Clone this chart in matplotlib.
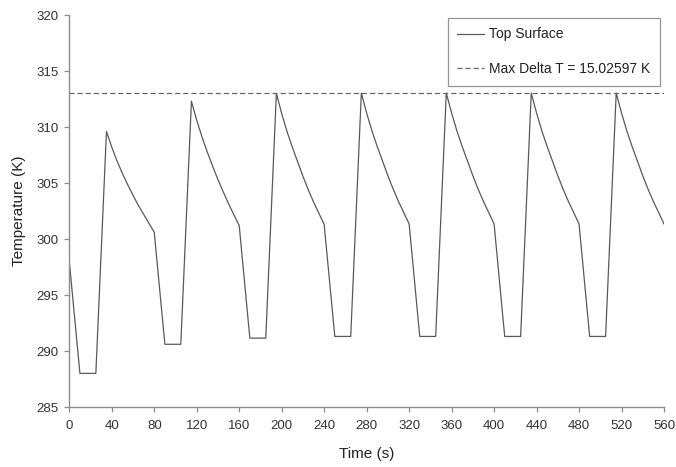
import numpy as np
import matplotlib
matplotlib.use('Agg')
import matplotlib.pyplot as plt

plt.rcParams['font.family'] = ['Liberation Sans', 'DejaVu Sans']

# surface temperature over seven heating / cooling cycles
time_s = [0, 10, 25, 35, 40, 45, 50, 55, 60, 65, 70, 75, 80,
          90, 105, 115, 120, 125, 130, 135, 140, 145, 150, 155, 160,
          170, 185, 195, 200, 205, 210, 215, 220, 225, 230, 235, 240,
          250, 265, 275, 280, 285, 290, 295, 300, 305, 310, 315, 320,
          330, 345, 355, 360, 365, 370, 375, 380, 385, 390, 395, 400,
          410, 425, 435, 440, 445, 450, 455, 460, 465, 470, 475, 480,
          490, 505, 515, 520, 525, 530, 535, 540, 545, 550, 555, 560]
temp_K = [298.0, 288.0, 288.0, 309.6, 308.2, 306.95, 305.85, 304.85, 303.9, 303.0, 302.2, 301.4, 300.6,
          290.6, 290.6, 312.3, 310.6, 309.1, 307.75, 306.5, 305.3, 304.2, 303.15, 302.15, 301.2,
          291.15, 291.15, 313.0, 311.2, 309.6, 308.2, 306.9, 305.6, 304.4, 303.3, 302.3, 301.3,
          291.3, 291.3, 313.03, 311.25, 309.65, 308.25, 306.95, 305.65, 304.45, 303.35, 302.35, 301.35,
          291.3, 291.3, 313.03, 311.25, 309.65, 308.25, 306.95, 305.65, 304.45, 303.35, 302.35, 301.35,
          291.3, 291.3, 313.03, 311.25, 309.65, 308.25, 306.95, 305.65, 304.45, 303.35, 302.35, 301.35,
          291.3, 291.3, 313.03, 311.25, 309.65, 308.25, 306.95, 305.65, 304.45, 303.35, 302.35, 301.35]

# largest rise above the initial temperature
max_delta = 15.02597
x_ticks = np.arange(0, 561, 40)
y_ticks = np.arange(285, 321, 5)

fig = plt.figure(figsize=(6.76, 4.67), dpi=100)
ax = fig.add_axes([69.3/676, 1 - 407/467, (664 - 69.3)/676, (407 - 15)/467])

ax.plot(time_s, temp_K, color='#595959', lw=0.9, label='Top Surface')
ax.axhline(temp_K[0] + max_delta, color='#666666', lw=0.9, ls=(0, (4, 2.5)),
           label='Max Delta T = %.5f K' % max_delta)

ax.set_xlim(0, 560)
ax.set_ylim(285, 320)
ax.set_xticks(x_ticks)
ax.set_yticks(y_ticks)
for s in ['top', 'right']:
    ax.spines[s].set_visible(False)
for s in ['left', 'bottom']:
    ax.spines[s].set_color('#8c8c8c')
    ax.spines[s].set_linewidth(1.0)
ax.tick_params(direction='out', length=3.5, width=0.9, color='#8c8c8c',
               labelsize=9.5, labelcolor='#333333')
ax.tick_params(axis='x', pad=6)
ax.tick_params(axis='y', pad=4)

ax.set_xlabel('Time (s)', fontsize=11, color='#222222', labelpad=11)
ax.set_ylabel('Temperature (K)', fontsize=11, color='#222222', labelpad=8)

leg = ax.legend(loc='upper right', bbox_to_anchor=(660/676, 1 - 18/467),
                bbox_transform=fig.transFigure, fontsize=10, frameon=True,
                fancybox=False, edgecolor='#7a7a7a', handlelength=1.9,
                labelspacing=1.5, borderpad=0.68, handletextpad=0.4,
                borderaxespad=0)
leg.get_frame().set_linewidth(0.9)
for txt in leg.get_texts():
    txt.set_color('#222222')

fig.savefig('out.png', dpi=100)
